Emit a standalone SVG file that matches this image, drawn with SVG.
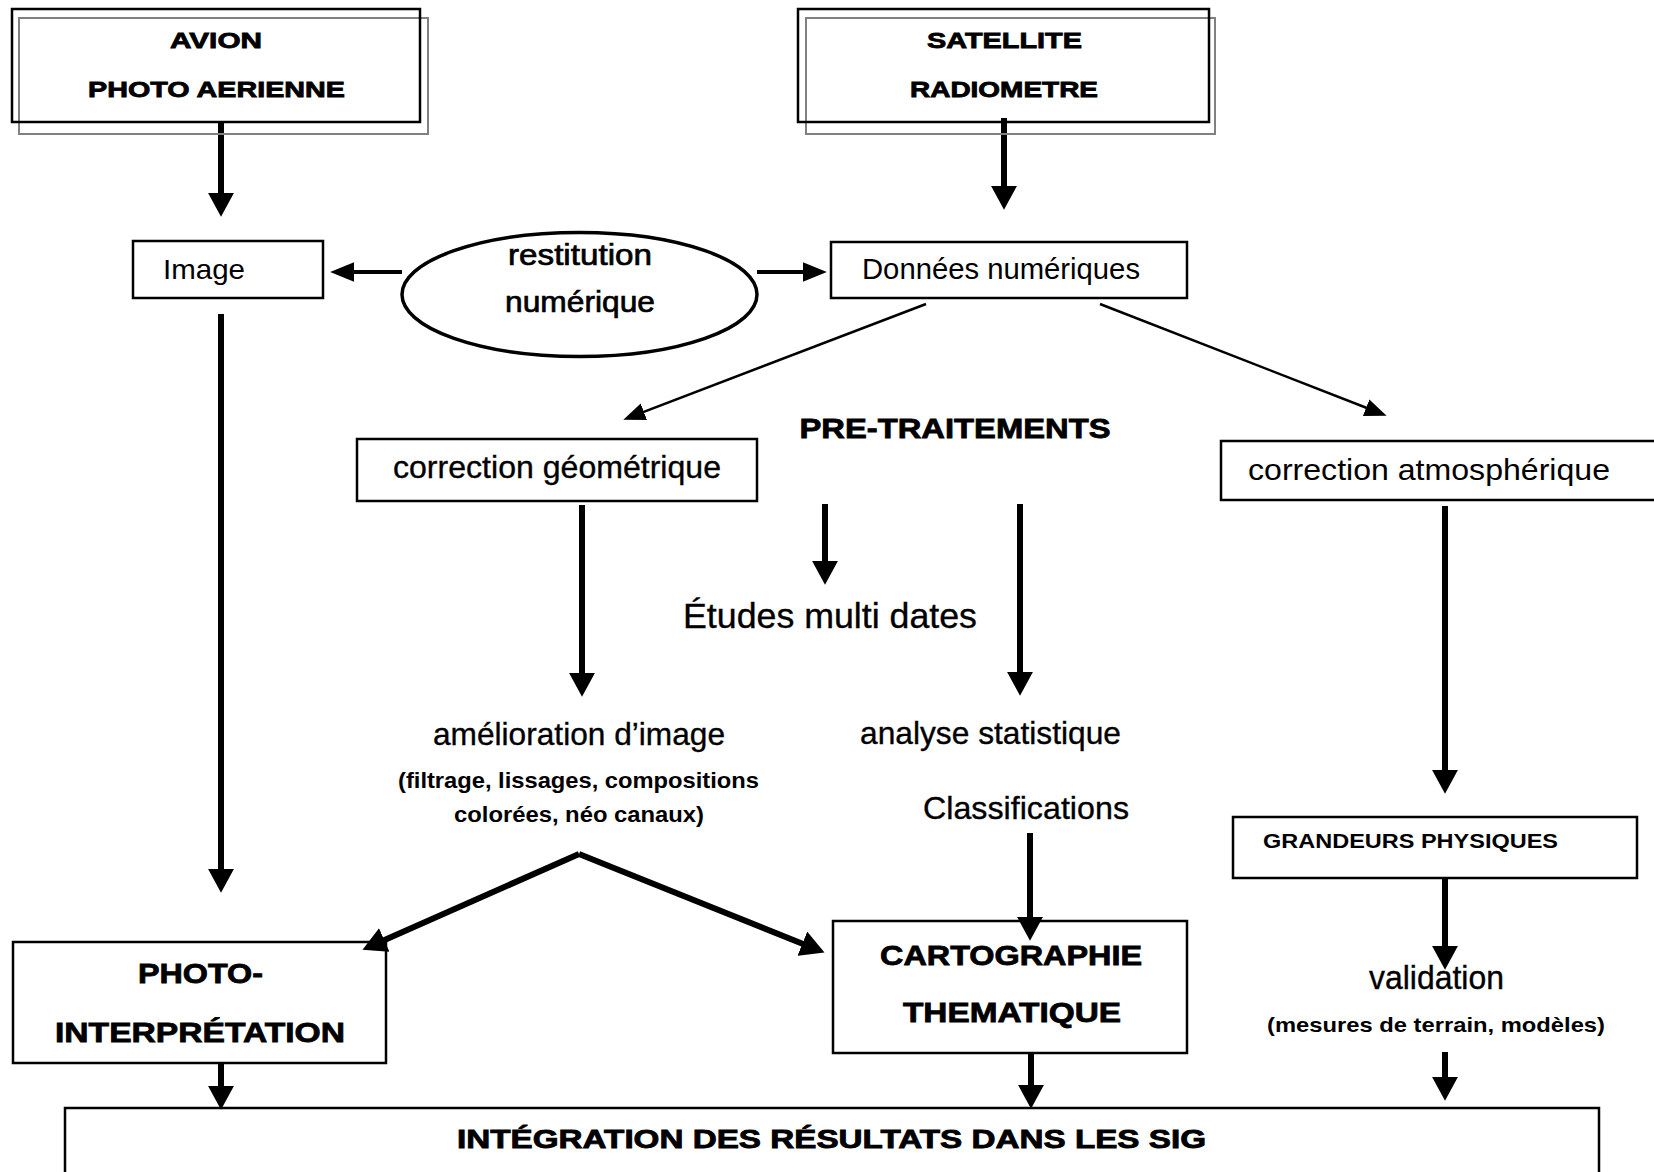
<svg xmlns="http://www.w3.org/2000/svg" width="1654" height="1172" viewBox="0 0 1654 1172">
<style>
text{font-family:"Liberation Sans",Arial,sans-serif;fill:#000}
.r{font-weight:normal}
.n{font-weight:normal;stroke:#000;stroke-width:0.35}
.m{font-weight:normal;stroke:#000;stroke-width:0.7}
.b{font-weight:bold}
.hb{font-weight:bold;stroke:#000;stroke-width:0.8}
.c{text-anchor:middle}
.box{fill:none;stroke:#000;stroke-width:2.5}
.shadow{fill:none;stroke:#808080;stroke-width:2}
.thick{fill:none;stroke:#000;stroke-width:6}
.med{fill:none;stroke:#000;stroke-width:4}
.thin{fill:none;stroke:#000;stroke-width:2.5}
</style>
<defs>
<marker id="ahBig" markerUnits="userSpaceOnUse" markerWidth="24" markerHeight="26" refX="2" refY="12" orient="auto" viewBox="0 0 22 24">
<path d="M0,0 L22,12 L0,24 z" fill="#000"/>
</marker>
<marker id="ahMed" markerUnits="userSpaceOnUse" markerWidth="24" markerHeight="20" refX="2" refY="9" orient="auto" viewBox="0 0 22 18">
<path d="M0,0 L22,9 L0,18 z" fill="#000"/>
</marker>
<marker id="ahThin" markerUnits="userSpaceOnUse" markerWidth="22" markerHeight="18" refX="2" refY="8" orient="auto" viewBox="0 0 20 16">
<path d="M0,0 L20,8 L0,16 z" fill="#000"/>
</marker>
</defs>
<rect width="1654" height="1172" fill="#fff"/>

<g id="connectors">
<path class="thick" d="M221,122 V195" marker-end="url(#ahBig)"/>
<path class="thick" d="M1004,118 V188" marker-end="url(#ahBig)"/>
<path class="med" d="M402,272 H352" marker-end="url(#ahMed)"/>
<path class="med" d="M757,272 H805" marker-end="url(#ahMed)"/>
<path class="thick" d="M221,314 V871" marker-end="url(#ahBig)"/>
<path class="thin" d="M926,304 L641.8,412.6" marker-end="url(#ahThin)"/>
<path class="thin" d="M1100,304 L1368.2,408.5" marker-end="url(#ahThin)"/>
<path class="thick" d="M582,505 V675" marker-end="url(#ahBig)"/>
<path class="thick" d="M825,504 V563" marker-end="url(#ahBig)"/>
<path class="thick" d="M1020,504 V674" marker-end="url(#ahBig)"/>
<path class="thick" d="M1445,506 V772" marker-end="url(#ahBig)"/>
<path class="thick" d="M1030,833 V919" marker-end="url(#ahBig)"/>
<path class="thick" d="M579,854 L382.3,940.9" marker-end="url(#ahBig)"/>
<path class="thick" d="M579,854 L804.4,944.5" marker-end="url(#ahBig)"/>
<path class="thick" d="M1445,878 V948" marker-end="url(#ahBig)"/>
<path class="thick" d="M221,1063 V1088" marker-end="url(#ahBig)"/>
<path class="thick" d="M1031,1053 V1087" marker-end="url(#ahBig)"/>
<path class="thick" d="M1445,1052 V1079" marker-end="url(#ahBig)"/>
</g>

<g id="avion">
<rect class="shadow" x="19" y="18" width="409" height="116"/>
<rect class="box" x="12" y="9" width="408" height="113"/>
<text class="hb c" x="216" y="48" font-size="22" textLength="92" lengthAdjust="spacingAndGlyphs">AVION</text>
<text class="hb c" x="216.5" y="97" font-size="22" textLength="257" lengthAdjust="spacingAndGlyphs">PHOTO AERIENNE</text>
</g>

<g id="satellite">
<rect class="shadow" x="806" y="18" width="409" height="116"/>
<rect class="box" x="798" y="9" width="411" height="113"/>
<text class="hb c" x="1004.5" y="48" font-size="22" textLength="155" lengthAdjust="spacingAndGlyphs">SATELLITE</text>
<text class="hb c" x="1004" y="97" font-size="22" textLength="188" lengthAdjust="spacingAndGlyphs">RADIOMETRE</text>
</g>

<g id="image">
<rect class="box" x="133" y="241" width="190" height="57"/>
<text class="r" x="163" y="279" font-size="28" textLength="82" lengthAdjust="spacingAndGlyphs">Image</text>
</g>

<g id="restitution">
<ellipse cx="579.5" cy="294.5" rx="177.5" ry="62" fill="none" stroke="#000" stroke-width="3.5"/>
<text class="m c" x="580" y="265" font-size="30" textLength="144" lengthAdjust="spacingAndGlyphs">restitution</text>
<text class="m c" x="580" y="312" font-size="30" textLength="150" lengthAdjust="spacingAndGlyphs">numérique</text>
</g>

<g id="donnees">
<rect class="box" x="831" y="242" width="356" height="56"/>
<text class="r" x="862" y="279" font-size="29" textLength="278" lengthAdjust="spacingAndGlyphs">Données numériques</text>
</g>

<g id="pretraitements">
<text class="hb c" x="955" y="438" font-size="28" textLength="311" lengthAdjust="spacingAndGlyphs">PRE-TRAITEMENTS</text>
</g>

<g id="correction-geometrique">
<rect class="box" x="357" y="439" width="400" height="62"/>
<text class="n c" x="557" y="478" font-size="32" textLength="328" lengthAdjust="spacingAndGlyphs">correction géométrique</text>
</g>

<g id="correction-atmospherique">
<rect class="box" x="1221" y="441" width="450" height="59"/>
<text class="r" x="1248" y="480" font-size="30" textLength="362" lengthAdjust="spacingAndGlyphs">correction atmosphérique</text>
</g>

<g id="etudes">
<text class="n" x="683" y="628" font-size="35" textLength="294" lengthAdjust="spacingAndGlyphs">Études multi dates</text>
</g>

<g id="amelioration">
<text class="n c" x="579" y="745" font-size="32" textLength="292" lengthAdjust="spacingAndGlyphs">amélioration d’image</text>
<text class="b c" x="578.5" y="788" font-size="22" textLength="361" lengthAdjust="spacingAndGlyphs">(filtrage, lissages, compositions</text>
<text class="b c" x="579" y="822" font-size="22" textLength="250" lengthAdjust="spacingAndGlyphs">colorées, néo canaux)</text>
</g>

<g id="analyse">
<text class="n c" x="990.5" y="744" font-size="32" textLength="261" lengthAdjust="spacingAndGlyphs">analyse statistique</text>
<text class="n c" x="1026" y="819" font-size="32" textLength="206" lengthAdjust="spacingAndGlyphs">Classifications</text>
</g>

<g id="grandeurs">
<rect class="box" x="1233" y="817" width="404" height="61"/>
<text class="b" x="1263" y="848" font-size="21" textLength="295" lengthAdjust="spacingAndGlyphs">GRANDEURS PHYSIQUES</text>
</g>

<g id="photo-interpretation">
<rect class="box" x="13" y="942" width="373" height="121"/>
<text class="hb c" x="200.5" y="983" font-size="28" textLength="125" lengthAdjust="spacingAndGlyphs">PHOTO-</text>
<text class="hb c" x="200" y="1042" font-size="28" textLength="290" lengthAdjust="spacingAndGlyphs">INTERPRÉTATION</text>
</g>

<g id="cartographie">
<rect class="box" x="833" y="921" width="354" height="132"/>
<text class="hb c" x="1011" y="965" font-size="28" textLength="262" lengthAdjust="spacingAndGlyphs">CARTOGRAPHIE</text>
<text class="hb c" x="1012" y="1022" font-size="28" textLength="218" lengthAdjust="spacingAndGlyphs">THEMATIQUE</text>
</g>

<g id="validation">
<text class="n c" x="1436.5" y="989" font-size="33" textLength="135" lengthAdjust="spacingAndGlyphs">validation</text>
<text class="b c" x="1436" y="1032" font-size="21" textLength="338" lengthAdjust="spacingAndGlyphs">(mesures de terrain, modèles)</text>
</g>

<g id="integration">
<rect class="box" x="65" y="1108" width="1534" height="100"/>
<text class="hb c" x="831.5" y="1148" font-size="25" textLength="749" lengthAdjust="spacingAndGlyphs">INTÉGRATION DES RÉSULTATS DANS LES SIG</text>
</g>
</svg>
